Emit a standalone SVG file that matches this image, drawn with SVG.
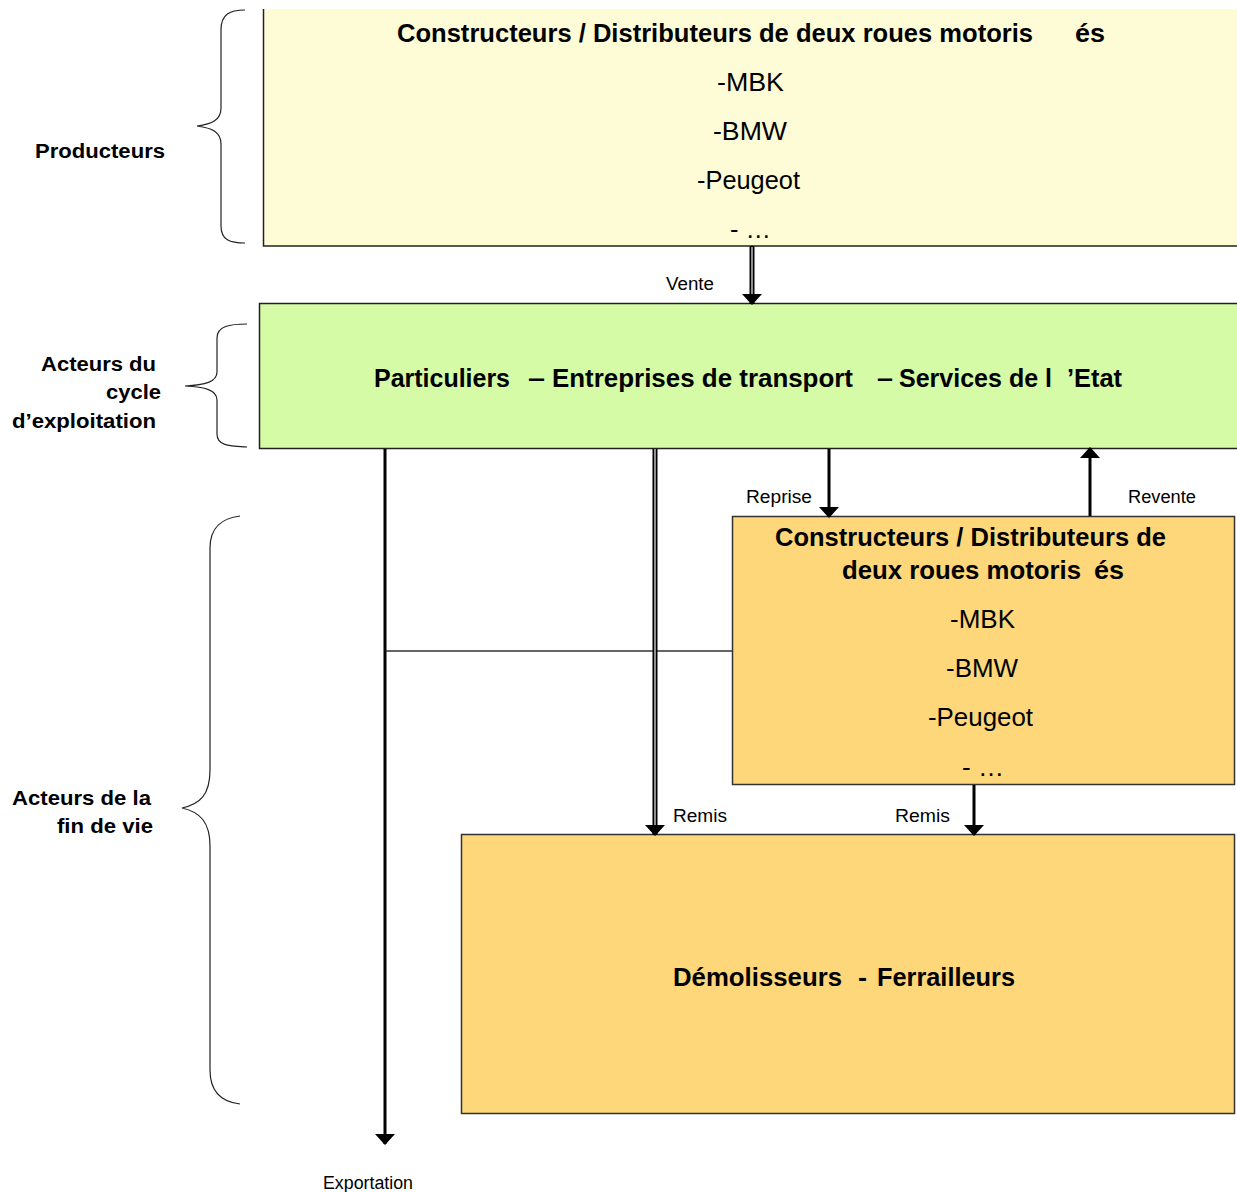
<svg xmlns="http://www.w3.org/2000/svg" width="1237" height="1192" viewBox="0 0 1237 1192">
  <defs>
    <style>
      text { font-family: "Liberation Sans", Arial, sans-serif; fill: #000; }
      .title { font-size: 25px; font-weight: bold; }
      .item { font-size: 25px; }
      .side { font-size: 20px; font-weight: bold; }
      .lbl { font-size: 18px; }
      .brace { fill: none; stroke: #222; stroke-width: 1.2; }
      .edge { fill: none; stroke: #222; stroke-width: 1.5; }
      .shaft { stroke: #000; stroke-width: 3; fill: none; }
      .dbl { stroke: #000; stroke-width: 5; fill: none; }
      .gap { stroke: #ddd; stroke-width: 1.3; fill: none; }
      .head { fill: #000; }
    </style>
    <marker id="arrow" viewBox="0 0 11 20" refX="10" refY="10" markerWidth="11" markerHeight="20" markerUnits="userSpaceOnUse" orient="auto">
      <path d="M0,0 L11,10 L0,20 Z" class="head"/>
    </marker>
  </defs>

  <rect width="1237" height="1192" fill="#fff"/>

  <!-- side brackets and category labels -->
  <g id="producteurs">
    <path class="brace" d="M245,10 C230,10 221,14 221,30 L221,108 C221,120 212,124 197,126 C212,128 221,132 221,144 L221,226 C221,240 230,243 245,243"/>
    <text class="side" x="35" y="158" textLength="130" lengthAdjust="spacingAndGlyphs">Producteurs</text>
  </g>
  <g id="acteurs-exploitation">
    <path class="brace" d="M247,324 C230,324 217,326 217,338 L217,372 C217,382 205,385 185,386 C205,387 217,390 217,400 L217,434 C217,446 230,446 247,447"/>
    <text class="side" x="156" y="371" text-anchor="end" textLength="115" lengthAdjust="spacingAndGlyphs">Acteurs du</text>
    <text class="side" x="161" y="399" text-anchor="end" textLength="55" lengthAdjust="spacingAndGlyphs">cycle</text>
    <text class="side" x="156" y="428" text-anchor="end" textLength="144" lengthAdjust="spacingAndGlyphs">d’exploitation</text>
  </g>
  <g id="acteurs-fin-de-vie">
    <path class="brace" d="M240,516 C222,518 210,528 210,548 L210,770 C210,795 200,804 182,808 C200,812 210,822 210,846 L210,1070 C210,1092 222,1102 240,1104"/>
    <text class="side" x="151" y="805" text-anchor="end" textLength="139" lengthAdjust="spacingAndGlyphs">Acteurs de la</text>
    <text class="side" x="153" y="833" text-anchor="end" textLength="96" lengthAdjust="spacingAndGlyphs">fin de vie</text>
  </g>

  <!-- producers -->
  <g id="constructeurs-haut">
    <rect x="263" y="9" width="980" height="237" fill="#FEFCD6"/>
    <path class="edge" d="M263.5,9 L263.5,246 L1237,246"/>
    <text class="title" x="397" y="42" textLength="636" lengthAdjust="spacingAndGlyphs">Constructeurs / Distributeurs de deux roues motoris</text>
    <text class="title" x="1075" y="42" textLength="30" lengthAdjust="spacingAndGlyphs">és</text>
    <text class="item" x="717" y="91" textLength="67" lengthAdjust="spacingAndGlyphs">-MBK</text>
    <text class="item" x="713" y="140" textLength="74" lengthAdjust="spacingAndGlyphs">-BMW</text>
    <text class="item" x="697" y="189" textLength="103" lengthAdjust="spacingAndGlyphs">-Peugeot</text>
    <text class="item" x="730" y="238" textLength="41" lengthAdjust="spacingAndGlyphs">- …</text>
  </g>

  <!-- users -->
  <g id="particuliers">
    <rect x="259" y="303" width="984" height="145" fill="#D5FBA6"/>
    <path class="edge" d="M1237,303.5 L259.5,303.5 L259.5,448.5 L1237,448.5"/>
    <text class="title" x="374" y="387" textLength="136" lengthAdjust="spacingAndGlyphs">Particuliers</text>
    <text class="title" x="528" y="387" textLength="17" lengthAdjust="spacingAndGlyphs">–</text>
    <text class="title" x="552" y="387" textLength="301" lengthAdjust="spacingAndGlyphs">Entreprises de transport</text>
    <text class="title" x="877" y="387" textLength="16" lengthAdjust="spacingAndGlyphs">–</text>
    <text class="title" x="899" y="387" textLength="153" lengthAdjust="spacingAndGlyphs">Services de l</text>
    <text class="title" x="1067" y="387" textLength="55" lengthAdjust="spacingAndGlyphs">’Etat</text>
  </g>

  <!-- end-of-life manufacturers / distributors -->
  <g id="constructeurs-bas">
    <rect x="732.5" y="516.5" width="502" height="268" fill="#FED77A" stroke="#333" stroke-width="1.5"/>
    <text class="title" x="775" y="546" textLength="391" lengthAdjust="spacingAndGlyphs">Constructeurs / Distributeurs de</text>
    <text class="title" x="842" y="579" textLength="239" lengthAdjust="spacingAndGlyphs">deux roues motoris</text>
    <text class="title" x="1094" y="579" textLength="30" lengthAdjust="spacingAndGlyphs">és</text>
    <text class="item" x="950" y="628" textLength="65" lengthAdjust="spacingAndGlyphs">-MBK</text>
    <text class="item" x="946" y="677" textLength="72" lengthAdjust="spacingAndGlyphs">-BMW</text>
    <text class="item" x="928" y="726" textLength="105" lengthAdjust="spacingAndGlyphs">-Peugeot</text>
    <text class="item" x="962" y="776" textLength="42" lengthAdjust="spacingAndGlyphs">- …</text>
  </g>

  <!-- scrap dealers -->
  <g id="demolisseurs">
    <rect x="461.5" y="834.5" width="773" height="279" fill="#FED77A" stroke="#333" stroke-width="1.5"/>
    <text class="title" x="673" y="986" textLength="169" lengthAdjust="spacingAndGlyphs">Démolisseurs</text>
    <text class="title" x="858" y="986" textLength="9" lengthAdjust="spacingAndGlyphs">-</text>
    <text class="title" x="877" y="986" textLength="138" lengthAdjust="spacingAndGlyphs">Ferrailleurs</text>
  </g>

  <!-- flows -->
  <g id="connectors">
    <!-- Vente -->
    <line class="dbl" x1="752" y1="246" x2="752" y2="304" marker-end="url(#arrow)"/>
    <line class="gap" x1="752" y1="247" x2="752" y2="294"/>
    <text class="lbl" x="666" y="290" textLength="48" lengthAdjust="spacingAndGlyphs">Vente</text>

    <!-- Exportation -->
    <line class="shaft" x1="385" y1="449" x2="385" y2="1144" marker-end="url(#arrow)"/>
    <text class="lbl" x="323" y="1189" textLength="90" lengthAdjust="spacingAndGlyphs">Exportation</text>

    <!-- link from the end-of-life manufacturers to the export line -->
    <line x1="386" y1="651" x2="732" y2="651" stroke="#333" stroke-width="1.5"/>

    <!-- Remis (direct) -->
    <line class="dbl" x1="655" y1="449" x2="655" y2="835" marker-end="url(#arrow)"/>
    <line class="gap" x1="655" y1="449" x2="655" y2="825"/>
    <text class="lbl" x="673" y="822" textLength="54" lengthAdjust="spacingAndGlyphs">Remis</text>

    <!-- Reprise -->
    <line class="shaft" x1="829" y1="449" x2="829" y2="517" marker-end="url(#arrow)"/>
    <text class="lbl" x="746" y="503" textLength="66" lengthAdjust="spacingAndGlyphs">Reprise</text>

    <!-- Revente -->
    <line class="shaft" x1="1090" y1="516" x2="1090" y2="448" marker-end="url(#arrow)"/>
    <text class="lbl" x="1128" y="503" textLength="68" lengthAdjust="spacingAndGlyphs">Revente</text>

    <!-- Remis (via manufacturers) -->
    <line class="shaft" x1="974" y1="785" x2="974" y2="835" marker-end="url(#arrow)"/>
    <text class="lbl" x="895" y="822" textLength="55" lengthAdjust="spacingAndGlyphs">Remis</text>
  </g>
</svg>
